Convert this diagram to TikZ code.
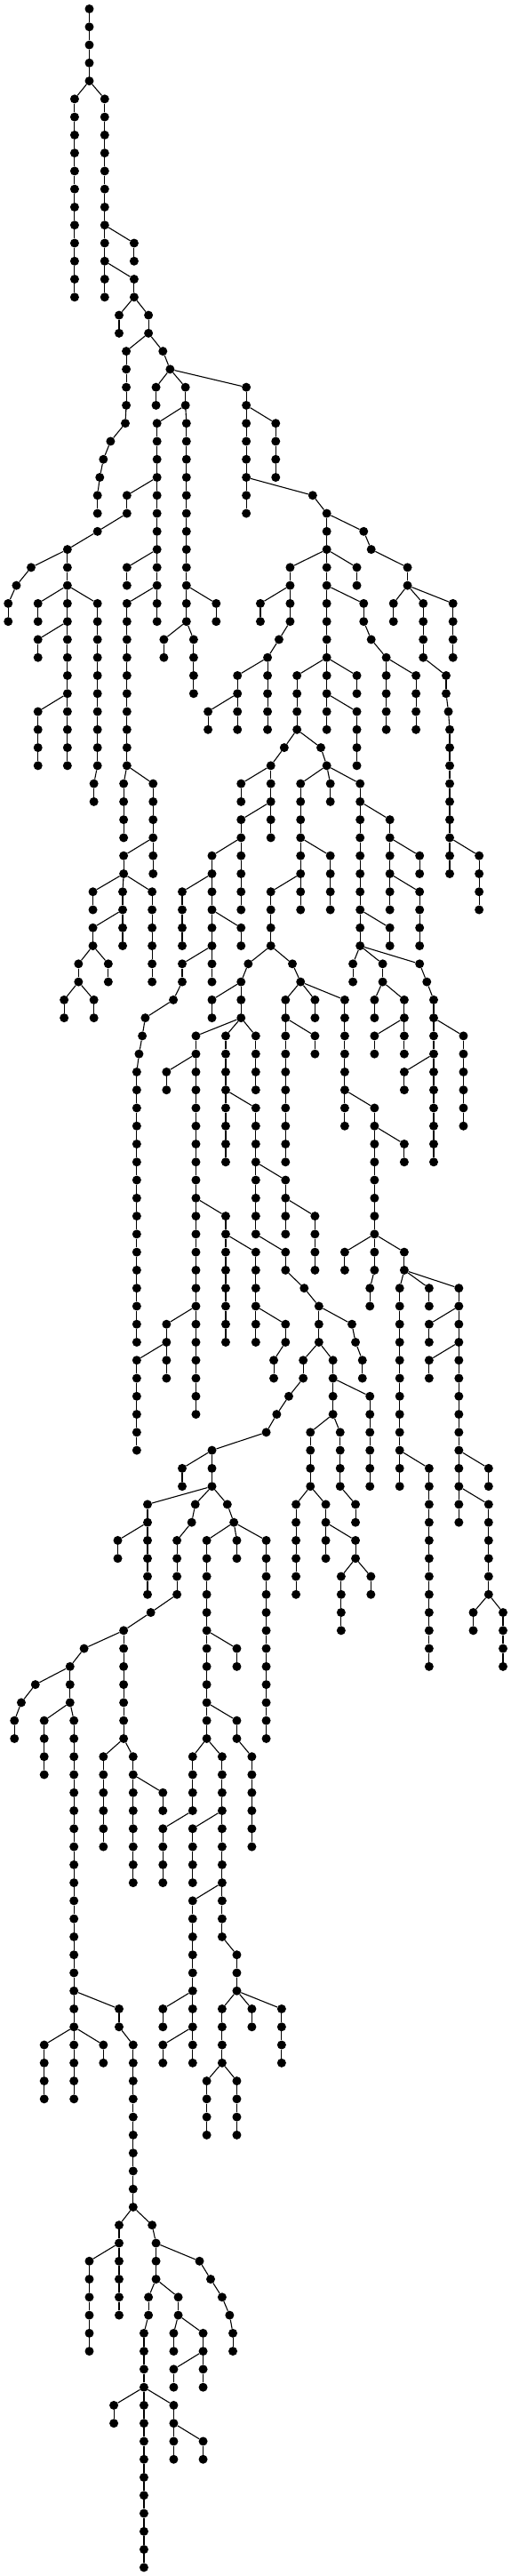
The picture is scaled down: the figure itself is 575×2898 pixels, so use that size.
\documentclass[tikz,border=0pt]{standalone}
\usepackage{tikz}
\tikzset{
  dot/.style={circle,fill=black,draw=none,inner sep=0pt,minimum size=10pt},
  edge/.style={draw=black,line width=1.1pt}
}
\newcommand\mychain[3]{\foreach \xx [count=\i] in {#3}{%
  \node[dot] (#1-\i) at (\xx,#2+\i-1) {};
  \ifnum\i>1 \pgfmathtruncatemacro\ip{\i-1}\draw[edge] (#1-\ip) -- (#1-\i);\fi}}
\newcommand\vch[4]{\foreach \i in {1,...,#4}{%
  \node[dot] (#1-\i) at (#3,#2+\i-1) {};
  \ifnum\i>1 \pgfmathtruncatemacro\ip{\i-1}\draw[edge] (#1-\ip) -- (#1-\i);\fi}}
\begin{document}
\begin{tikzpicture}
\useasboundingbox (0pt,0pt) rectangle (575pt,-2898pt);
\begin{scope}[x=0.368pt,y=-20.27pt,yshift=-10pt,xshift=-0.7pt]
\mychain{c1}{0}{275,275,275,275,275}
\vch{c2}{5}{230}{12}
\vch{c3}{5}{322}{12}
\vch{c4}{13}{412}{2}
\vch{c5}{15}{412}{2}
\vch{c6}{17}{366}{2}
\vch{c7}{17}{456}{2}
\mychain{c8}{19}{388,388,388,388,385,340,318,307,300,300}
\mychain{c9}{19}{500,522}
\vch{c10}{21}{479}{2}
\vch{c11}{21}{569}{2}
\vch{c12}{23}{482}{12}
\vch{c13}{23}{572}{12}
\vch{c14}{21}{755}{8}
\vch{c15}{23}{845}{4}
\mychain{c16}{27}{958,1001,1001,1001,1001,1001,1001,1001,1001,1001,1001,1001,1001,1001}
\mychain{c17}{29}{1114,1137,1248,1248}
\vch{c18}{33}{1205}{2}
\mychain{c19}{33}{1296,1296,1296,1296,1366,1366,1373,1377,1377,1377,1377,1377,1377,1377,1377,1377}
\vch{c20}{33}{1387}{4}
\vch{c21}{47}{1467}{4}
\mychain{c22}{31}{889,889,889,889,855,820,820,820,820,820}
\vch{c23}{33}{798}{2}
\vch{c24}{37}{728}{4}
\vch{c25}{39}{638}{2}
\vch{c26}{31}{1093}{2}
\mychain{c27}{33}{1114,1114,1137,1183,1183,1183,1183,1183}
\vch{c28}{37}{1274}{4}
\mychain{c29}{37}{910,910,910,910,871,830,830,830,830,830}
\vch{c30}{43}{739}{2}
\vch{c31}{45}{739}{6}
\vch{c32}{47}{650}{8}
\vch{c33}{49}{559}{4}
\vch{c34}{51}{739}{2}
\mychain{c35}{53}{559,559,532,446,437,427,420,420,420,420,420,420,420,420,420,420,420,420,420,420,420,420}
\mychain{c36}{41}{983,1001}
\vch{c37}{43}{921}{8}
\vch{c38}{43}{1012}{2}
\vch{c39}{43}{1103}{10}
\vch{c40}{47}{1012}{4}
\vch{c41}{49}{830}{4}
\mychain{c42}{53}{761,739,739,739}
\vch{c43}{55}{650}{2}
\vch{c44}{57}{601}{22}
\vch{c45}{59}{511}{2}
\vch{c46}{67}{692}{8}
\vch{c47}{69}{784}{6}
\mychain{c48}{73}{875,875,839,839}
\vch{c49}{73}{511}{4}
\vch{c50}{75}{420}{6}
\vch{c51}{57}{692}{8}
\vch{c52}{61}{784}{8}
\vch{c53}{65}{875}{4}
\vch{c54}{67}{965}{4}
\mychain{c55}{69}{875,875,932,977,977,977}
\mychain{c56}{73}{1078,1089,1110,1110}
\mychain{c57}{75}{929,929,885,848,816,650,650,650}
\vch{c58}{81}{559}{2}
\vch{c59}{83}{453}{6}
\vch{c60}{85}{362}{2}
\mychain{c61}{83}{599,588,543,543,543,543,463,380,380,380,380,380,380,380}
\mychain{c62}{91}{259,216,216,216,228,228,228,228,228,228,228,228,228,228,228,228,228,228,228,228,228,228,228,228,228,228}
\mychain{c63}{93}{110,67,46,46}
\vch{c64}{95}{137}{4}
\mychain{c65}{111}{366,366,409,409,409,409,409,409,409,409,409,409}
\vch{c66}{113}{137}{4}
\vch{c67}{113}{318}{2}
\vch{c68}{123}{366}{6}
\vch{c69}{125}{275}{6}
\mychain{c70}{123}{467,479,479,479,456,456,442,442,442,442,442,442,442,442,442,442,442,442,442,442}
\mychain{c71}{125}{612,646,681,704,714,714}
\mychain{c72}{127}{547,547,533,533}
\vch{c73}{129}{623}{4}
\vch{c74}{131}{533}{2}
\vch{c75}{133}{350}{2}
\vch{c76}{133}{533}{4}
\vch{c77}{135}{623}{2}
\vch{c78}{97}{318}{6}
\vch{c79}{97}{409}{8}
\vch{c80}{99}{500}{2}
\mychain{c81}{83}{697,717}
\vch{c82}{85}{726}{2}
\vch{c83}{85}{634}{12}
\vch{c84}{91}{726}{2}
\mychain{c85}{95}{726,726,772,772,772,772,772,772}
\vch{c86}{97}{591}{4}
\vch{c87}{101}{500}{4}
\mychain{c88}{97}{681,681,681,681,681,681,681,681,681,681,681,726,726,726}
\vch{c89}{101}{591}{4}
\vch{c90}{105}{591}{10}
\vch{c91}{111}{500}{2}
\vch{c92}{113}{500}{2}
\vch{c93}{111}{681}{4}
\vch{c94}{115}{634}{4}
\vch{c95}{115}{726}{4}
\vch{c96}{111}{772}{2}
\vch{c97}{111}{863}{4}
\vch{c98}{85}{816}{12}
\vch{c100}{75}{1020}{4}
\vch{c101}{77}{1133}{6}
\vch{c102}{79}{951}{4}
\vch{c103}{83}{907}{6}
\vch{c104}{83}{998}{4}
\vch{c105}{85}{1089}{2}
\vch{c106}{87}{1045}{4}
\vch{c107}{87}{1136}{2}
\mychain{c108}{79}{1042,1042,1042,1042,1089,1089}
\mychain{c110}{53}{896,921}
\vch{c111}{55}{875}{10}
\vch{c112}{57}{965}{2}
\vch{c113}{55}{965}{2}
\vch{c114}{55}{1056}{8}
\mychain{c115}{61}{1147,1147,1147,1147,1147,1147,1147,1147,1147,1147,1133,1133}
\vch{c116}{63}{1238}{2}
\vch{c117}{69}{1056}{2}
\vch{c118}{69}{1238}{2}
\vch{c119}{71}{1224}{12}
\vch{c120}{81}{1314}{12}
\vch{c121}{71}{1314}{2}
\vch{c122}{71}{1405}{14}
\vch{c123}{73}{1314}{2}
\vch{c124}{75}{1314}{2}
\vch{c125}{81}{1496}{2}
\vch{c126}{83}{1496}{6}
\vch{c127}{89}{1449}{2}
\vch{c128}{89}{1540}{4}
\vch{c129}{57}{784}{4}
\vch{c130}{45}{1194}{6}
\vch{c131}{47}{1285}{2}
\vch{c132}{49}{1285}{4}
\vch{c133}{51}{1194}{2}
\vch{c134}{53}{1081}{2}
\vch{c135}{53}{1172}{2}
\vch{c136}{55}{1147}{2}
\vch{c137}{55}{1238}{4}
\vch{c138}{57}{1147}{2}
\mychain{c139}{53}{1285,1307,1328,1328,1328,1328,1328,1328,1328,1328,1328,1328}
\vch{c140}{57}{1419}{6}
\vch{c141}{59}{1238}{2}
\mychain{c142}{27}{390,390,300,208,208,208,208,208,208,208,208,208,208,208,208,208}
\mychain{c143}{31}{97,52,27,27}
\vch{c144}{33}{118}{2}
\mychain{c145}{33}{300,300,300,300,300,300,300,300,300,300,289,289}
\vch{c146}{35}{118}{2}
\vch{c147}{39}{118}{4}
\vch{c148}{31}{390}{2}
\vch{c149}{33}{390}{10}
\vch{c150}{43}{380}{4}
\vch{c151}{43}{470}{6}
\vch{c152}{47}{380}{2}
\vch{c153}{49}{286}{2}
\vch{c154}{49}{377}{4}
\mychain{c155}{51}{286,286,242,242}
\vch{c156}{53}{333}{2}
\vch{c157}{55}{198}{2}
\vch{c158}{55}{289}{2}
\vch{c159}{49}{467}{6}
\vch{c160}{33}{663}{2}
\vch{c161}{35}{503}{2}
\vch{c162}{35}{594}{4}
\vch{c163}{37}{1093}{2}
\vch{c164}{39}{1093}{4}
\foreach \p/\c in {c1-5/c2,c1-5/c3,c3-8/c4,c3-10/c5,c5-2/c6,c5-2/c7,c7-2/c8,c7-2/c9,
  c9-2/c10,c9-2/c11,c9-2/c14,c11-2/c12,c11-2/c13,c14-2/c15,c14-6/c16,c16-2/c17,
  c17-4/c18,c17-4/c19,c17-4/c20,c19-14/c21,c16-4/c22,c16-4/c26,c22-2/c23,c22-6/c24,
  c24-2/c25,c16-6/c27,c27-4/c28,c16-10/c29,c16-10/c163,c16-12/c164,c29-6/c30,c29-8/c31,
  c31-2/c32,c32-2/c33,c32-4/c34,c32-6/c35,c29-4/c36,c36-2/c37,c36-2/c38,c36-2/c39,
  c37-4/c40,c37-6/c41,c41-4/c42,c41-4/c110,c42-2/c43,c42-4/c44,c42-4/c51,c42-4/c129,
  c44-2/c45,c44-10/c46,c46-2/c47,c47-4/c48,c44-16/c49,c49-2/c50,c51-4/c52,c52-4/c53,
  c53-2/c54,c52-8/c55,c55-4/c56,c55-6/c57,c55-6/c100,c57-6/c58,c57-8/c59,c57-8/c61,
  c57-8/c81,c59-2/c60,c61-8/c62,c62-2/c63,c62-4/c64,c62-20/c65,c62-22/c66,c62-22/c67,
  c65-12/c68,c65-12/c70,c68-2/c69,c70-2/c71,c70-4/c72,c72-2/c73,c73-2/c74,c70-10/c75,
  c70-10/c76,c76-2/c77,c61-14/c78,c61-14/c79,c79-2/c80,c81-2/c82,c81-2/c83,c81-2/c98,
  c83-6/c84,c83-10/c85,c83-12/c86,c83-12/c88,c86-4/c87,c88-4/c89,c88-8/c90,c90-6/c91,
  c90-8/c92,c88-14/c93,c88-14/c96,c88-14/c97,c93-4/c94,c93-4/c95,c100-2/c101,
  c100-4/c102,c100-4/c108,c102-4/c103,c102-4/c104,c104-2/c105,c105-2/c106,c105-2/c107,
  c110-2/c111,c110-2/c113,c110-2/c114,c111-2/c112,c114-6/c115,c115-2/c116,c115-8/c117,
  c115-8/c118,c118-2/c119,c118-2/c121,c118-2/c122,c119-10/c120,c122-2/c123,c122-4/c124,
  c122-10/c125,c122-12/c126,c126-6/c127,c126-6/c128,c39-2/c130,c130-2/c131,c130-4/c132,
  c39-8/c133,c39-10/c134,c39-10/c135,c39-10/c139,c135-2/c136,c135-2/c137,c137-2/c138,
  c139-4/c140,c139-6/c141,c12-4/c142,c142-4/c143,c142-6/c144,c142-6/c145,c142-8/c146,
  c142-12/c147,c12-8/c148,c12-10/c149,c149-10/c150,c149-10/c151,c151-4/c152,
  c152-2/c153,c152-2/c154,c152-2/c159,c154-2/c155,c155-2/c156,c155-4/c157,c155-4/c158,
  c13-10/c160,c13-12/c161,c13-12/c162}
  {\draw[edge] (\p) -- (\c-1);}
\end{scope}
\end{tikzpicture}
\end{document}
